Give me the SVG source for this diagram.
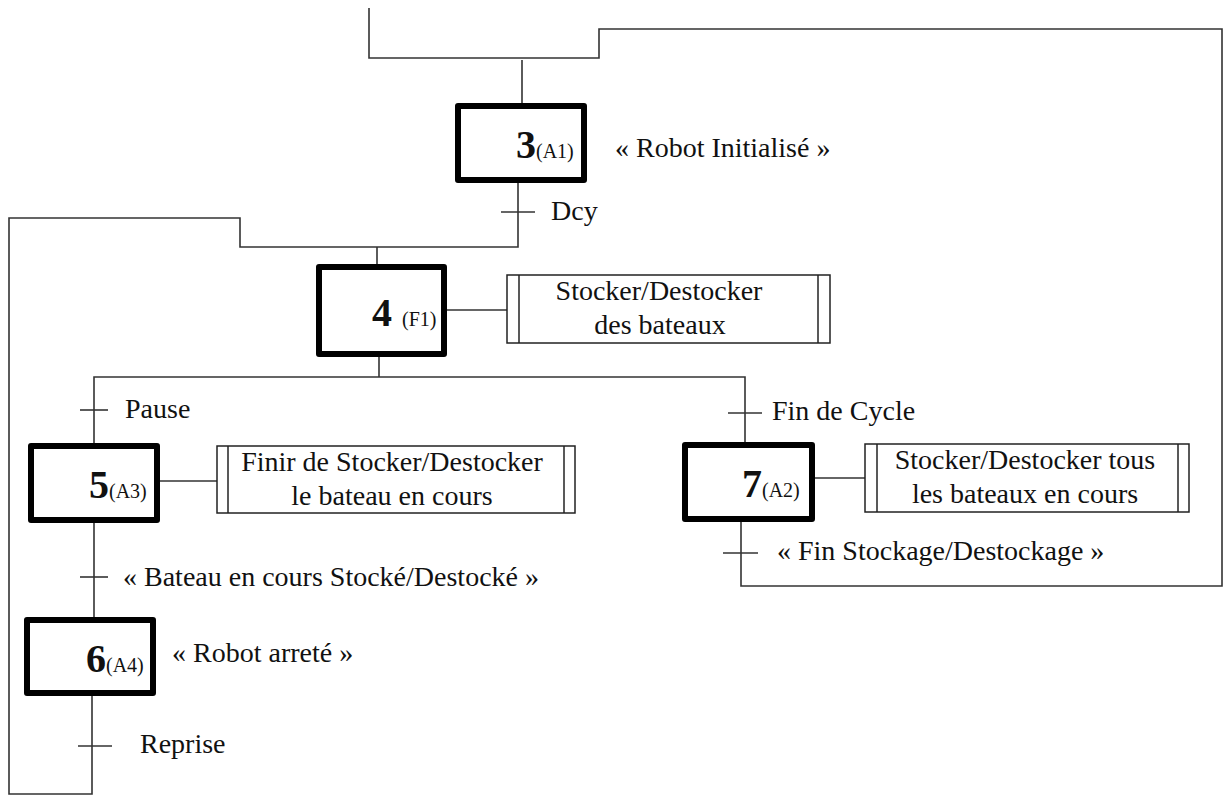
<svg xmlns="http://www.w3.org/2000/svg" width="1225" height="796" viewBox="0 0 1225 796">
  <style>
    .wire { fill: none; stroke: #333; stroke-width: 1.6; }
    .step { fill: #fff; stroke: #000; stroke-width: 6; stroke-linejoin: round; }
    .act { fill: #fff; stroke: #222; stroke-width: 1.5; }
    .bar { stroke: #222; stroke-width: 1.5; }
    text { font-family: "Liberation Serif", "Times New Roman", "DejaVu Serif", serif; fill: #111; }
    .lbl { font-size: 28px; }
    .num { font-size: 40px; font-weight: bold; }
    .sub { font-size: 20px; font-weight: normal; }
    .mid { text-anchor: middle; }
  </style>

  <!-- links, transitions and loops -->
  <g id="connectors">
    <!-- incoming link and return from step 7 -->
    <polyline class="wire" points="369,8 369,58 599,58 599,29 1222,29 1222,586 741,586 741,522"/>
    <line class="wire" x1="522" y1="60" x2="522" y2="103"/>
    <!-- step 3 to step 4, with return from step 6 -->
    <polyline class="wire" points="518,183 518,247 240,247 240,218 9,218 9,794 92,794 92,696"/>
    <line class="wire" x1="377" y1="247" x2="377" y2="264"/>
    <!-- divergence below step 4 -->
    <line class="wire" x1="379" y1="357" x2="379" y2="377"/>
    <polyline class="wire" points="94,443 94,377 745,377 745,442"/>
    <!-- step 5 to step 6 -->
    <line class="wire" x1="94" y1="523" x2="94" y2="617"/>
    <!-- step to action links -->
    <line class="wire" x1="447" y1="310" x2="507" y2="310"/>
    <line class="wire" x1="160" y1="481" x2="217" y2="481"/>
    <line class="wire" x1="815" y1="478" x2="865" y2="478"/>
    <!-- transition bars -->
    <line class="wire" x1="501" y1="212" x2="535" y2="212"/>
    <line class="wire" x1="80" y1="410" x2="108" y2="410"/>
    <line class="wire" x1="728" y1="413" x2="762" y2="413"/>
    <line class="wire" x1="80" y1="577" x2="108" y2="577"/>
    <line class="wire" x1="723" y1="553" x2="758" y2="553"/>
    <line class="wire" x1="78" y1="746" x2="112" y2="746"/>
    <!-- transition conditions -->
    <text class="lbl" x="551" y="220">Dcy</text>
    <text class="lbl" x="125" y="418">Pause</text>
    <text class="lbl" x="772" y="420">Fin de Cycle</text>
    <text class="lbl" x="123" y="586">« Bateau en cours Stocké/Destocké »</text>
    <text class="lbl" x="777" y="560">« Fin Stockage/Destockage »</text>
    <text class="lbl" x="140" y="753">Reprise</text>
  </g>

  <g id="step3">
    <rect class="step" x="458" y="106" width="126" height="74"/>
    <text class="num" x="516" y="158">3<tspan class="sub">(A1)</tspan></text>
    <text class="lbl" x="615" y="157">« Robot Initialisé »</text>
  </g>

  <g id="step4">
    <rect class="step" x="319" y="267" width="125" height="87"/>
    <text class="num" x="372" y="326">4 <tspan class="sub">(F1)</tspan></text>
  </g>
  <g id="action4">
    <rect class="act" x="507" y="275" width="323" height="68"/>
    <line class="bar" x1="519" y1="275" x2="519" y2="343"/>
    <line class="bar" x1="818" y1="275" x2="818" y2="343"/>
    <text class="lbl mid" x="659" y="300">Stocker/Destocker</text>
    <text class="lbl mid" x="660" y="334">des bateaux</text>
  </g>

  <g id="step5">
    <rect class="step" x="31" y="446" width="126" height="74"/>
    <text class="num" x="89" y="498">5<tspan class="sub">(A3)</tspan></text>
  </g>
  <g id="action5">
    <rect class="act" x="217" y="446" width="358" height="67"/>
    <line class="bar" x1="228" y1="446" x2="228" y2="513"/>
    <line class="bar" x1="564" y1="446" x2="564" y2="513"/>
    <text class="lbl mid" x="392" y="471">Finir de Stocker/Destocker</text>
    <text class="lbl mid" x="392" y="505">le bateau en cours</text>
  </g>

  <g id="step6">
    <rect class="step" x="27" y="620" width="126" height="73"/>
    <text class="num" x="86" y="672">6<tspan class="sub">(A4)</tspan></text>
    <text class="lbl" x="172" y="662">« Robot arreté »</text>
  </g>

  <g id="step7">
    <rect class="step" x="685" y="445" width="127" height="74"/>
    <text class="num" x="742" y="497">7<tspan class="sub">(A2)</tspan></text>
  </g>
  <g id="action7">
    <rect class="act" x="865" y="444" width="324" height="68"/>
    <line class="bar" x1="877" y1="444" x2="877" y2="512"/>
    <line class="bar" x1="1178" y1="444" x2="1178" y2="512"/>
    <text class="lbl mid" x="1025" y="469">Stocker/Destocker tous</text>
    <text class="lbl mid" x="1025" y="503">les bateaux en cours</text>
  </g>
</svg>
